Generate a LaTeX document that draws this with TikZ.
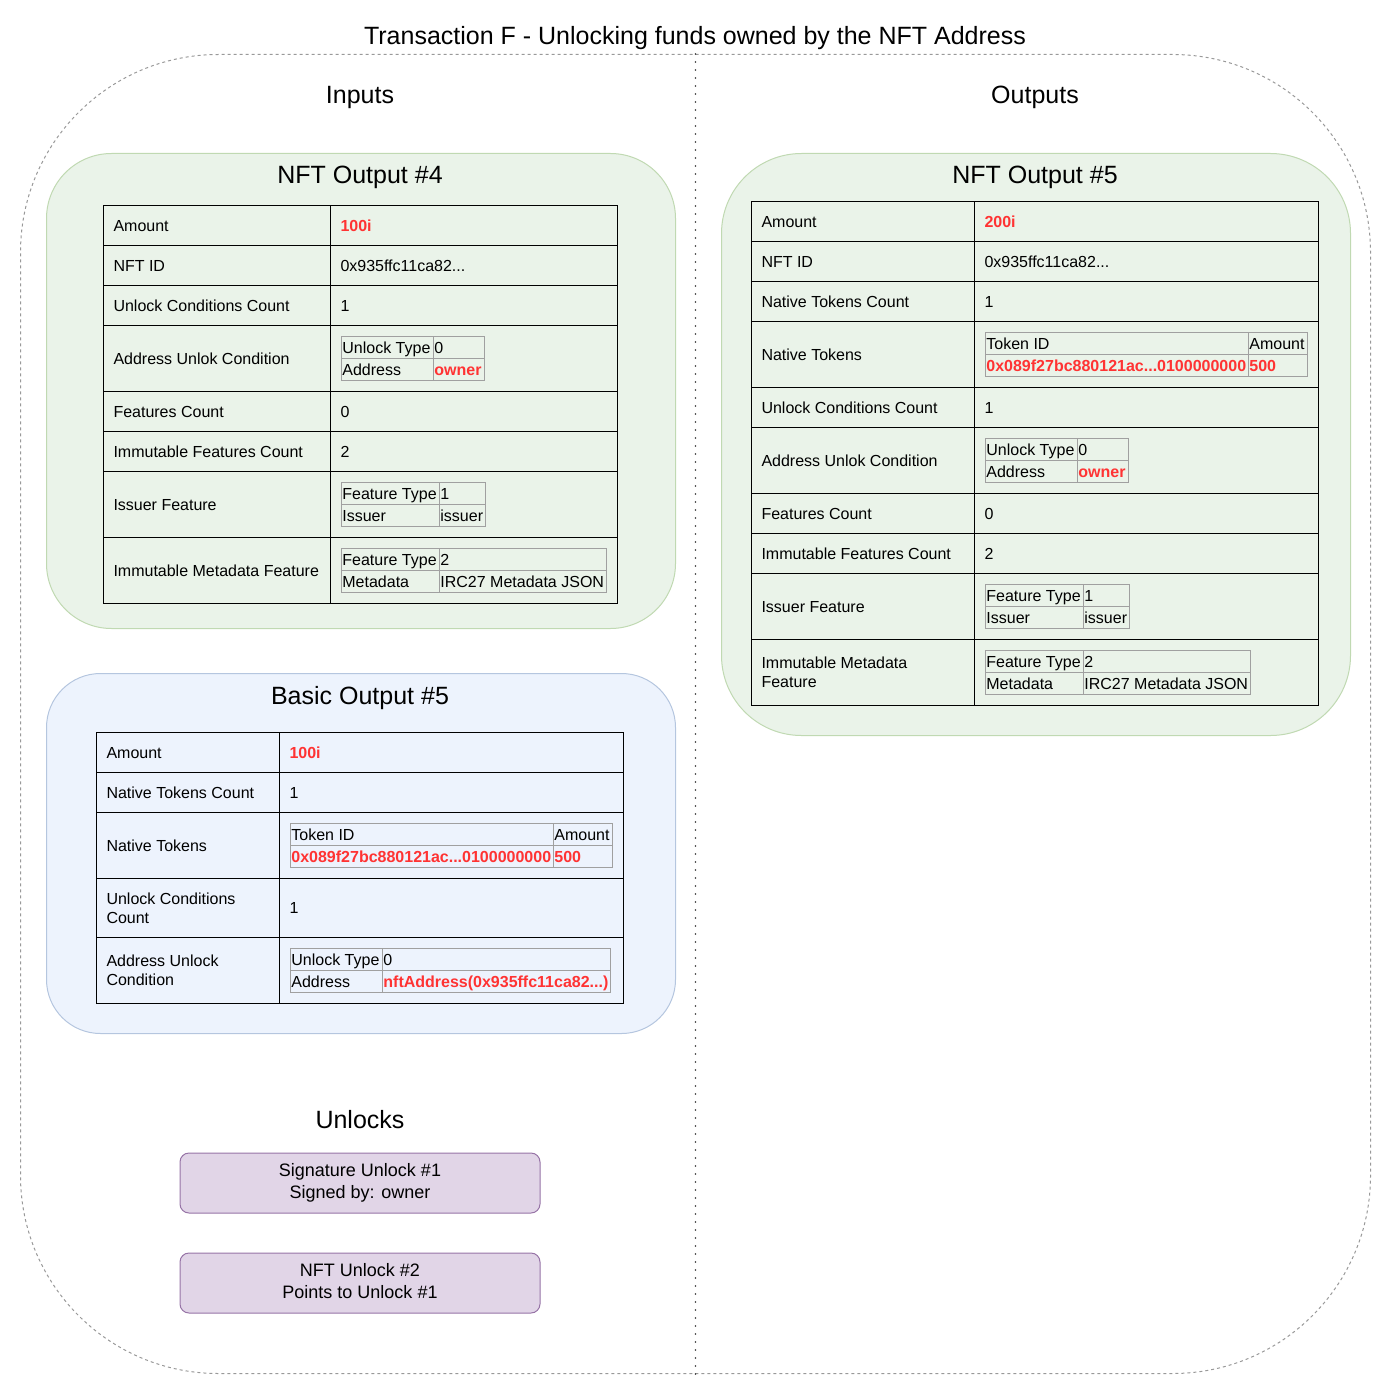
\documentclass[tikz,border=0pt]{standalone}
\usepackage{fontspec}
\setmainfont{Liberation Sans}

\definecolor{framegray}{HTML}{999999}
\definecolor{nftfill}{HTML}{EAF3E9}
\definecolor{nftline}{HTML}{C0D9B2}
\definecolor{basicfill}{HTML}{EDF3FD}
\definecolor{basicline}{HTML}{B5C6DF}
\definecolor{unlockfill}{HTML}{E1D5E7}
\definecolor{unlockline}{HTML}{9673A6}
\definecolor{hlred}{HTML}{FF3333}
\definecolor{subgray}{HTML}{A0A0A0}

\newcommand{\redval}[1]{\textcolor{hlred}{\textbf{#1}}}
\newcommand{\cellstrut}{\rule[-3.5pt]{0pt}{18.5pt}}
\newcommand{\cellstart}{\spaceskip=0pt\xspaceskip=0pt\hyphenpenalty=10000\relax\cellstrut}
\newcommand{\boxstrut}{\rule[-4pt]{0pt}{23.9pt}}
\newcommand{\tabfont}{\fontsize{16}{19}\selectfont}
\newcommand{\headfont}{\fontsize{25}{30}\selectfont}
\newcommand{\unlockfont}{\fontsize{18}{22}\selectfont}

\tikzset{
  heading/.style={anchor=base, font=\headfont, inner sep=0pt},
  panel/.style={anchor=north west, rounded corners=#1, line width=1pt},
  cell/.style 2 args={draw=black, line width=1pt, anchor=north west, inner xsep=10pt, inner ysep=0pt,
    align=left, text width=#1pt, minimum height=#2pt, font=\tabfont,
    execute at begin node=\cellstart, execute at end node=\cellstrut},
  sub/.style={draw=subgray, line width=0.8pt, anchor=north west, inner xsep=1pt, inner ysep=0pt,
    align=left, text width=#1pt, minimum height=22pt, font=\tabfont,
    execute at begin node=\cellstart, execute at end node=\cellstrut},
  unlockbox/.style={draw=unlockline, fill=unlockfill, line width=1pt, rounded corners=9pt,
    minimum width=360pt, minimum height=60pt, align=center, font=\unlockfont,
    execute at begin node=\boxstrut, execute at end node=\rule[-4pt]{0pt}{16.9pt}},
  divider/.style={draw=black!80, line width=1.6pt, dash pattern=on 0pt off 8pt, line cap=round}
}

\begin{document}
\begin{tikzpicture}[x=1pt, y=-1pt]
    \useasboundingbox (0,0) rectangle (1392,1396);

    % frame and divider
    \node[anchor=north west, draw=framegray, line width=1pt, dash pattern=on 3pt off 3pt,
          rounded corners=198pt, minimum width=1350pt, minimum height=1319pt] (txframe) at (20,54) {};
    \draw[divider] (txframe.north) -- (txframe.south);

    \node[heading] (txtitle) at (695,45) {Transaction F - Unlocking funds owned by the NFT Address};
    \node[heading] (inputs) at (360,104) {Inputs};
    \node[heading] (outputs) at (1035,104) {Outputs};

    % NFT Output #4
    \node[panel=65pt, draw=nftline, fill=nftfill, minimum width=629pt, minimum height=475pt] (nftinbox) at (46,153) {};
    \node[heading] (nftintitle) at (360,184) {NFT Output \#4};
    \node[cell={207}{40}] (nftin-k1) at (103,205) {Amount};
    \node[cell={267}{40}] (nftin-v1) at (330,205) {\redval{100i}};
    \node[cell={207}{40}] (nftin-k2) at (103,245) {NFT ID};
    \node[cell={267}{40}] (nftin-v2) at (330,245) {0x935ffc11ca82...};
    \node[cell={207}{40}] (nftin-k3) at (103,285) {Unlock Conditions Count};
    \node[cell={267}{40}] (nftin-v3) at (330,285) {1};
    \node[cell={207}{66}] (nftin-k4) at (103,325) {Address Unlok Condition};
    \node[cell={267}{66}] (nftin-v4) at (330,325) {};
    \node[cell={207}{40}] (nftin-k5) at (103,391) {Features Count};
    \node[cell={267}{40}] (nftin-v5) at (330,391) {0};
    \node[cell={207}{40}] (nftin-k6) at (103,431) {Immutable Features Count};
    \node[cell={267}{40}] (nftin-v6) at (330,431) {2};
    \node[cell={207}{66}] (nftin-k7) at (103,471) {Issuer Feature};
    \node[cell={267}{66}] (nftin-v7) at (330,471) {};
    \node[cell={207}{66}] (nftin-k8) at (103,537) {Immutable Metadata Feature};
    \node[cell={267}{66}] (nftin-v8) at (330,537) {};

    \node[sub=90] (nftin-ut) at (341,336) {Unlock Type};
    \node[sub=49] (nftin-utv) at (433,336) {0};
    \node[sub=90] (nftin-ad) at (341,358) {Address};
    \node[sub=49] (nftin-adv) at (433,358) {\redval{owner}};
    \node[sub=96] (nftin-ft1) at (341,482) {Feature Type};
    \node[sub=44] (nftin-ft1v) at (439,482) {1};
    \node[sub=96] (nftin-is) at (341,504) {Issuer};
    \node[sub=44] (nftin-isv) at (439,504) {issuer};
    \node[sub=96] (nftin-ft2) at (341,548) {Feature Type};
    \node[sub=165] (nftin-ft2v) at (439,548) {2};
    \node[sub=96] (nftin-md) at (341,570) {Metadata};
    \node[sub=165] (nftin-mdv) at (439,570) {IRC27 Metadata JSON};

    % Basic Output #5
    \node[panel=54pt, draw=basicline, fill=basicfill, minimum width=629pt, minimum height=360pt] (basicbox) at (46,673) {};
    \node[heading] (basictitle) at (360,704) {Basic Output \#5};
    \node[cell={163}{40}] (basic-k1) at (96,732) {Amount};
    \node[cell={324}{40}] (basic-v1) at (279,732) {\redval{100i}};
    \node[cell={163}{40}] (basic-k2) at (96,772) {Native Tokens Count};
    \node[cell={324}{40}] (basic-v2) at (279,772) {1};
    \node[cell={163}{66}] (basic-k3) at (96,812) {Native Tokens};
    \node[cell={324}{66}] (basic-v3) at (279,812) {};
    \node[cell={163}{59}] (basic-k4) at (96,878) {Unlock Conditions\\Count};
    \node[cell={324}{59}] (basic-v4) at (279,878) {1};
    \node[cell={163}{66}] (basic-k5) at (96,937) {Address Unlock\\Condition};
    \node[cell={324}{66}] (basic-v5) at (279,937) {};

    \node[sub=261] (basic-tid) at (290,823) {Token ID};
    \node[sub=57] (basic-tam) at (553,823) {Amount};
    \node[sub=261] (basic-tidv) at (290,845) {\redval{0x089f27bc880121ac...0100000000}};
    \node[sub=57] (basic-tamv) at (553,845) {\redval{500}};
    \node[sub=90] (basic-ut) at (290,948) {Unlock Type};
    \node[sub=226] (basic-utv) at (382,948) {0};
    \node[sub=90] (basic-ad) at (290,970) {Address};
    \node[sub=226] (basic-adv) at (382,970) {\redval{nftAddress(0x935ffc11ca82...)}};

    % NFT Output #5
    \node[panel=80pt, draw=nftline, fill=nftfill, minimum width=629pt, minimum height=582pt] (nftoutbox) at (721,153) {};
    \node[heading] (nftouttitle) at (1035,184) {NFT Output \#5};
    \node[cell={203}{40}] (nftout-k1) at (751,201) {Amount};
    \node[cell={324}{40}] (nftout-v1) at (974,201) {\redval{200i}};
    \node[cell={203}{40}] (nftout-k2) at (751,241) {NFT ID};
    \node[cell={324}{40}] (nftout-v2) at (974,241) {0x935ffc11ca82...};
    \node[cell={203}{40}] (nftout-k3) at (751,281) {Native Tokens Count};
    \node[cell={324}{40}] (nftout-v3) at (974,281) {1};
    \node[cell={203}{66}] (nftout-k4) at (751,321) {Native Tokens};
    \node[cell={324}{66}] (nftout-v4) at (974,321) {};
    \node[cell={203}{40}] (nftout-k5) at (751,387) {Unlock Conditions Count};
    \node[cell={324}{40}] (nftout-v5) at (974,387) {1};
    \node[cell={203}{66}] (nftout-k6) at (751,427) {Address Unlok Condition};
    \node[cell={324}{66}] (nftout-v6) at (974,427) {};
    \node[cell={203}{40}] (nftout-k7) at (751,493) {Features Count};
    \node[cell={324}{40}] (nftout-v7) at (974,493) {0};
    \node[cell={203}{40}] (nftout-k8) at (751,533) {Immutable Features Count};
    \node[cell={324}{40}] (nftout-v8) at (974,533) {2};
    \node[cell={203}{66}] (nftout-k9) at (751,573) {Issuer Feature};
    \node[cell={324}{66}] (nftout-v9) at (974,573) {};
    \node[cell={203}{66}] (nftout-k10) at (751,639) {Immutable Metadata\\Feature};
    \node[cell={324}{66}] (nftout-v10) at (974,639) {};

    \node[sub=261] (nftout-tid) at (985,332) {Token ID};
    \node[sub=57] (nftout-tam) at (1248,332) {Amount};
    \node[sub=261] (nftout-tidv) at (985,354) {\redval{0x089f27bc880121ac...0100000000}};
    \node[sub=57] (nftout-tamv) at (1248,354) {\redval{500}};
    \node[sub=90] (nftout-ut) at (985,438) {Unlock Type};
    \node[sub=49] (nftout-utv) at (1077,438) {0};
    \node[sub=90] (nftout-ad) at (985,460) {Address};
    \node[sub=49] (nftout-adv) at (1077,460) {\redval{owner}};
    \node[sub=96] (nftout-ft1) at (985,584) {Feature Type};
    \node[sub=44] (nftout-ft1v) at (1083,584) {1};
    \node[sub=96] (nftout-is) at (985,606) {Issuer};
    \node[sub=44] (nftout-isv) at (1083,606) {issuer};
    \node[sub=96] (nftout-ft2) at (985,650) {Feature Type};
    \node[sub=165] (nftout-ft2v) at (1083,650) {2};
    \node[sub=96] (nftout-md) at (985,672) {Metadata};
    \node[sub=165] (nftout-mdv) at (1083,672) {IRC27 Metadata JSON};

    % Unlocks
    \node[heading] (unlocks) at (360,1128) {Unlocks};
    \node[unlockbox] (sigunlock) at (360,1183) {Signature Unlock \#1\\Signed by: owner};
    \node[unlockbox] (nftunlock) at (360,1283) {NFT Unlock \#2\\Points to Unlock \#1};
\end{tikzpicture}
\end{document}
